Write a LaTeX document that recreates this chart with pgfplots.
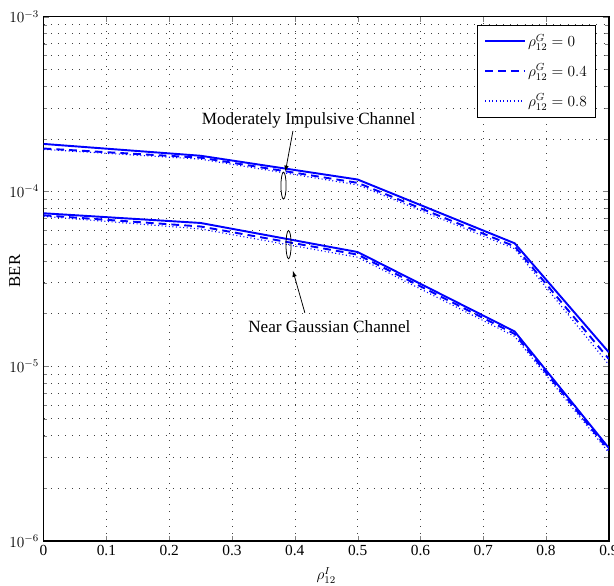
\documentclass[border=0pt]{standalone}
\usepackage{fontspec}
\setmainfont{Liberation Serif}
\usepackage{pgfplots}
\pgfplotsset{compat=1.18}
\begin{document}
\begin{tikzpicture}
\begin{axis}[
    name=ax,
    scale only axis,
    width=441pt, height=409pt,
    ymode=log,
    xmin=0, xmax=0.9, ymin=1e-6, ymax=1e-3,
    xtick={0,0.1,...,0.9},
    xticklabel style={/pgf/number format/assume math mode=true, /pgf/number format/fixed},
    tick label style={font=\large},
    grid=both,
    major grid style={black!75, line width=0.5pt, dash pattern=on 0.6pt off 5pt},
    minor grid style={black!75, line width=0.5pt, dash pattern=on 0.6pt off 5pt},
    minor x tick num=0,
    tick align=inside,
    axis line style={line width=1pt},
    xlabel={$\rho_{12}^{I}$},
    ylabel={BER},
    every axis x label/.style={at={(axis description cs:0.5,-0.066)}, anchor=center, font=\large},
    every axis y label/.style={at={(axis description cs:-0.051,0.515)}, anchor=center, rotate=90, font=\fontsize{13}{15}\selectfont},
    legend style={at={(0.978,0.985)}, anchor=north east, cells={anchor=west}, font=\large, row sep=8pt, inner sep=5pt, line width=0.8pt},
    legend image post style={xscale=1.8},
    every axis plot/.append style={blue, line width=1.5pt},
]
\addplot[solid] coordinates {(0,1.87e-4) (0.25,1.6e-4) (0.5,1.17e-4) (0.75,5.05e-5) (0.9,1.2e-5)};
\addplot[dash pattern=on 6pt off 4pt] coordinates {(0,1.76e-4) (0.25,1.56e-4) (0.5,1.12e-4) (0.75,4.85e-5) (0.9,1.1e-5)};
\addplot[dash pattern=on 0.8pt off 2pt, line width=0.9pt] coordinates {(0,1.74e-4) (0.25,1.53e-4) (0.5,1.09e-4) (0.75,4.7e-5) (0.9,1.02e-5)};
\addplot[solid, forget plot] coordinates {(0,7.5e-5) (0.25,6.6e-5) (0.5,4.5e-5) (0.75,1.58e-5) (0.9,3.4e-6)};
\addplot[dash pattern=on 6pt off 4pt, forget plot] coordinates {(0,7.3e-5) (0.25,6.3e-5) (0.5,4.35e-5) (0.75,1.53e-5) (0.9,3.3e-6)};
\addplot[dash pattern=on 0.8pt off 2pt, line width=0.9pt, forget plot] coordinates {(0,7.2e-5) (0.25,6.1e-5) (0.5,4.2e-5) (0.75,1.48e-5) (0.9,3.2e-6)};
\legend{$\rho_{12}^{G}=0$, $\rho_{12}^{G}=0.4$, $\rho_{12}^{G}=0.8$}
% annotations
\draw[black, line width=0.6pt] (axis cs:0.382,1.08e-4) ellipse [x radius=2pt, y radius=10.5pt];
\draw[black, line width=0.6pt] (axis cs:0.390,4.96e-5) ellipse [x radius=2pt, y radius=11pt];
\draw[black, line width=0.6pt, -latex] (axis cs:0.397,2.22e-4) -- (axis cs:0.385,1.3e-4);
\draw[black, line width=0.6pt, -latex] (axis cs:0.416,2.02e-5) -- (axis cs:0.397,3.51e-5);
\node[font=\fontsize{13.4}{16}\selectfont] at (axis cs:0.422,2.54e-4) {Moderately Impulsive Channel};
\node[font=\fontsize{13.4}{16}\selectfont] at (axis cs:0.455,1.68e-5) {Near Gaussian Channel};
\end{axis}
\pgfresetboundingbox
\path (ax.south west) ++(-34pt,-35pt) coordinate (bl);
\path (ax.north east) ++(4pt,13pt) coordinate (tr);
\useasboundingbox (bl) rectangle (tr);
\end{tikzpicture}
\end{document}
